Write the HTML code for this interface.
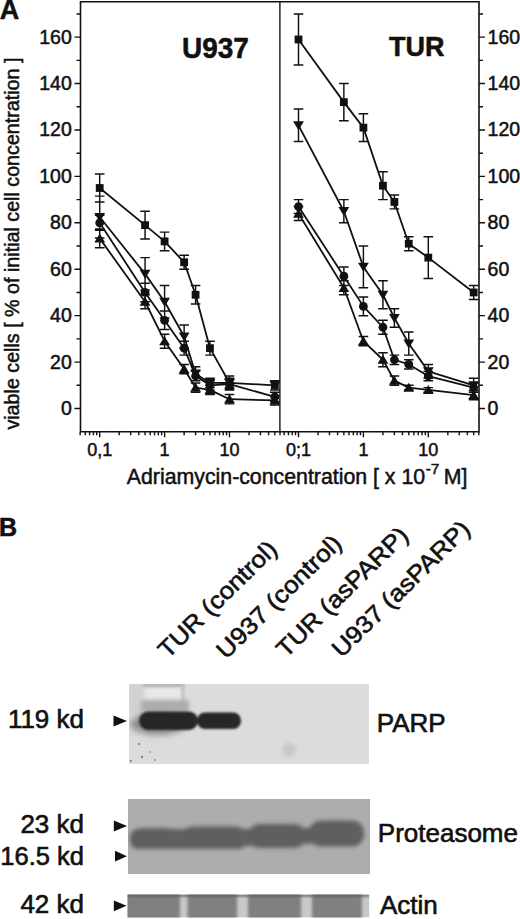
<!DOCTYPE html>
<html><head><meta charset="utf-8"><style>
html,body{margin:0;padding:0;background:#fff;}
body{width:520px;height:919px;position:relative;overflow:hidden;font-family:"Liberation Sans", sans-serif;}
</style></head><body>
<svg width="520" height="919" viewBox="0 0 520 919" style="position:absolute;left:0;top:0"><g stroke="#111" stroke-width="1.6" fill="none"><path d="M80.5 1.8H479.0V431.8H80.5Z"/><path d="M279.9 1.8V431.8" stroke-width="1.4"/></g><path d="M74.5 408.50H80.5 M479.0 408.50H485.0 M76.5 385.29H80.5 M479.0 385.29H483.0 M74.5 362.08H80.5 M479.0 362.08H485.0 M76.5 338.87H80.5 M479.0 338.87H483.0 M74.5 315.66H80.5 M479.0 315.66H485.0 M76.5 292.45H80.5 M479.0 292.45H483.0 M74.5 269.24H80.5 M479.0 269.24H485.0 M76.5 246.03H80.5 M479.0 246.03H483.0 M74.5 222.82H80.5 M479.0 222.82H485.0 M76.5 199.61H80.5 M479.0 199.61H483.0 M74.5 176.40H80.5 M479.0 176.40H485.0 M76.5 153.19H80.5 M479.0 153.19H483.0 M74.5 129.98H80.5 M479.0 129.98H485.0 M76.5 106.77H80.5 M479.0 106.77H483.0 M74.5 83.56H80.5 M479.0 83.56H485.0 M76.5 60.35H80.5 M479.0 60.35H483.0 M74.5 37.14H80.5 M479.0 37.14H485.0 M76.5 13.93H80.5 M479.0 13.93H483.0 M80.16 431.8V435.3 M85.30 431.8V435.3 M89.65 431.8V435.3 M93.41 431.8V435.3 M96.73 431.8V435.3 M99.70 431.8V437.3 M119.24 431.8V435.3 M130.67 431.8V435.3 M138.77 431.8V435.3 M145.06 431.8V435.3 M150.20 431.8V435.3 M154.55 431.8V435.3 M158.31 431.8V435.3 M161.63 431.8V435.3 M164.60 431.8V437.3 M184.14 431.8V435.3 M195.57 431.8V435.3 M203.67 431.8V435.3 M209.96 431.8V435.3 M215.10 431.8V435.3 M219.45 431.8V435.3 M223.21 431.8V435.3 M226.53 431.8V435.3 M229.50 431.8V437.3 M249.04 431.8V435.3 M260.47 431.8V435.3 M268.57 431.8V435.3 M274.86 431.8V435.3 M280.00 431.8V435.3 M284.10 431.8V435.3 M288.45 431.8V435.3 M292.21 431.8V435.3 M295.53 431.8V435.3 M298.50 431.8V437.3 M318.04 431.8V435.3 M329.47 431.8V435.3 M337.57 431.8V435.3 M343.86 431.8V435.3 M349.00 431.8V435.3 M353.35 431.8V435.3 M357.11 431.8V435.3 M360.43 431.8V435.3 M363.40 431.8V437.3 M382.94 431.8V435.3 M394.37 431.8V435.3 M402.47 431.8V435.3 M408.76 431.8V435.3 M413.90 431.8V435.3 M418.25 431.8V435.3 M422.01 431.8V435.3 M425.33 431.8V435.3 M428.30 431.8V437.3 M447.84 431.8V435.3 M459.27 431.8V435.3 M467.37 431.8V435.3 M473.66 431.8V435.3 M478.80 431.8V435.3" stroke="#111" stroke-width="1.4" fill="none"/><path d="M99.70 174.08V201.93M94.90 174.08H104.50M94.90 201.93H104.50 M145.06 211.21V239.07M140.26 211.21H149.86M140.26 239.07H149.86 M164.60 232.10V250.67M159.80 232.10H169.40M159.80 250.67H169.40 M184.14 255.31V269.24M179.34 255.31H188.94M179.34 269.24H188.94 M195.57 285.49V304.05M190.77 285.49H200.37M190.77 304.05H200.37 M209.96 341.19V355.12M205.16 341.19H214.76M205.16 355.12H214.76 M229.50 376.01V389.93M224.70 376.01H234.30M224.70 389.93H234.30 M274.86 380.65V389.93M270.06 380.65H279.66M270.06 389.93H279.66 M99.70 196.13V237.91M94.90 196.13H104.50M94.90 237.91H104.50 M145.06 257.63V290.13M140.26 257.63H149.86M140.26 290.13H149.86 M164.60 285.49V317.98M159.80 285.49H169.40M159.80 317.98H169.40 M184.14 324.94V348.15M179.34 324.94H188.94M179.34 348.15H188.94 M195.57 366.72V380.65M190.77 366.72H200.37M190.77 380.65H200.37 M209.96 378.33V387.61M205.16 378.33H214.76M205.16 387.61H214.76 M229.50 378.33V387.61M224.70 378.33H234.30M224.70 387.61H234.30 M274.86 380.65V389.93M270.06 380.65H279.66M270.06 389.93H279.66 M99.70 215.39V230.25M94.90 215.39H104.50M94.90 230.25H104.50 M145.06 283.17V301.73M140.26 283.17H149.86M140.26 301.73H149.86 M164.60 311.02V329.59M159.80 311.02H169.40M159.80 329.59H169.40 M184.14 341.19V355.12M179.34 341.19H188.94M179.34 355.12H188.94 M195.57 371.36V380.65M190.77 371.36H200.37M190.77 380.65H200.37 M209.96 380.65V389.93M205.16 380.65H214.76M205.16 389.93H214.76 M229.50 379.49V388.77M224.70 379.49H234.30M224.70 388.77H234.30 M274.86 392.25V401.54M270.06 392.25H279.66M270.06 401.54H279.66 M99.70 229.09V247.65M94.90 229.09H104.50M94.90 247.65H104.50 M145.06 294.77V308.70M140.26 294.77H149.86M140.26 308.70H149.86 M164.60 334.23V348.15M159.80 334.23H169.40M159.80 348.15H169.40 M184.14 364.40V373.69M179.34 364.40H188.94M179.34 373.69H188.94 M195.57 382.97V392.25M190.77 382.97H200.37M190.77 392.25H200.37 M209.96 385.29V394.57M205.16 385.29H214.76M205.16 394.57H214.76 M229.50 394.57V403.86M224.70 394.57H234.30M224.70 403.86H234.30 M274.86 395.73V405.02M270.06 395.73H279.66M270.06 405.02H279.66" stroke="#111" stroke-width="1.45" fill="none"/><path d="M99.70 188.00L145.06 225.14L164.60 241.39L184.14 262.28L195.57 294.77L209.96 348.15L229.50 382.97L274.86 385.29 M99.70 217.02L145.06 273.88L164.60 301.73L184.14 336.55L195.57 373.69L209.96 382.97L229.50 382.97L274.86 385.29 M99.70 222.82L145.06 292.45L164.60 320.30L184.14 348.15L195.57 376.01L209.96 385.29L229.50 384.13L274.86 396.89 M99.70 238.37L145.06 301.73L164.60 341.19L184.14 369.04L195.57 387.61L209.96 389.93L229.50 399.22L274.86 400.38" stroke="#111" stroke-width="1.8" fill="none" stroke-linejoin="round"/><g fill="#111"><rect x="95.80" y="184.10" width="7.80" height="7.80"/><rect x="141.16" y="221.24" width="7.80" height="7.80"/><rect x="160.70" y="237.49" width="7.80" height="7.80"/><rect x="180.24" y="258.38" width="7.80" height="7.80"/><rect x="191.67" y="290.87" width="7.80" height="7.80"/><rect x="206.06" y="344.25" width="7.80" height="7.80"/><rect x="225.60" y="379.07" width="7.80" height="7.80"/><rect x="270.96" y="381.39" width="7.80" height="7.80"/><path d="M94.30 212.92L105.10 212.92L99.70 221.92Z"/><path d="M139.66 269.78L150.46 269.78L145.06 278.78Z"/><path d="M159.20 297.63L170.00 297.63L164.60 306.63Z"/><path d="M178.74 332.45L189.54 332.45L184.14 341.45Z"/><path d="M190.17 369.58L200.97 369.58L195.57 378.58Z"/><path d="M204.56 378.87L215.36 378.87L209.96 387.87Z"/><path d="M224.10 378.87L234.90 378.87L229.50 387.87Z"/><path d="M269.46 381.19L280.26 381.19L274.86 390.19Z"/><circle cx="99.70" cy="222.82" r="4.4"/><circle cx="145.06" cy="292.45" r="4.4"/><circle cx="164.60" cy="320.30" r="4.4"/><circle cx="184.14" cy="348.15" r="4.4"/><circle cx="195.57" cy="376.01" r="4.4"/><circle cx="209.96" cy="385.29" r="4.4"/><circle cx="229.50" cy="384.13" r="4.4"/><circle cx="274.86" cy="396.89" r="4.4"/><path d="M94.30 242.47L105.10 242.47L99.70 233.47Z"/><path d="M139.66 305.83L150.46 305.83L145.06 296.83Z"/><path d="M159.20 345.29L170.00 345.29L164.60 336.29Z"/><path d="M178.74 373.14L189.54 373.14L184.14 364.14Z"/><path d="M190.17 391.71L200.97 391.71L195.57 382.71Z"/><path d="M204.56 394.03L215.36 394.03L209.96 385.03Z"/><path d="M224.10 403.32L234.90 403.32L229.50 394.32Z"/><path d="M269.46 404.48L280.26 404.48L274.86 395.48Z"/></g><path d="M298.50 13.93V64.99M293.70 13.93H303.30M293.70 64.99H303.30 M343.86 83.56V120.70M339.06 83.56H348.66M339.06 120.70H348.66 M363.40 113.73V141.58M358.60 113.73H368.20M358.60 141.58H368.20 M382.94 171.76V199.61M378.14 171.76H387.74M378.14 199.61H387.74 M394.37 194.97V208.89M389.57 194.97H399.17M389.57 208.89H399.17 M408.76 236.75V250.67M403.96 236.75H413.56M403.96 250.67H413.56 M428.30 236.75V278.52M423.50 236.75H433.10M423.50 278.52H433.10 M473.66 285.49V299.41M468.86 285.49H478.46M468.86 299.41H478.46 M298.50 109.09V141.58M293.70 109.09H303.30M293.70 141.58H303.30 M343.86 199.61V222.82M339.06 199.61H348.66M339.06 222.82H348.66 M363.40 246.03V287.81M358.60 246.03H368.20M358.60 287.81H368.20 M382.94 280.84V308.70M378.14 280.84H387.74M378.14 308.70H387.74 M394.37 308.70V327.26M389.57 308.70H399.17M389.57 327.26H399.17 M408.76 331.91V355.12M403.96 331.91H413.56M403.96 355.12H413.56 M428.30 364.40V378.33M423.50 364.40H433.10M423.50 378.33H433.10 M473.66 378.33V392.25M468.86 378.33H478.46M468.86 392.25H478.46 M298.50 199.61V213.54M293.70 199.61H303.30M293.70 213.54H303.30 M343.86 266.92V285.49M339.06 266.92H348.66M339.06 285.49H348.66 M363.40 297.09V315.66M358.60 297.09H368.20M358.60 315.66H368.20 M382.94 320.30V334.23M378.14 320.30H387.74M378.14 334.23H387.74 M394.37 355.12V364.40M389.57 355.12H399.17M389.57 364.40H399.17 M408.76 359.76V369.04M403.96 359.76H413.56M403.96 369.04H413.56 M428.30 371.36V380.65M423.50 371.36H433.10M423.50 380.65H433.10 M473.66 382.97V392.25M468.86 382.97H478.46M468.86 392.25H478.46 M298.50 206.57V220.50M293.70 206.57H303.30M293.70 220.50H303.30 M343.86 280.84V294.77M339.06 280.84H348.66M339.06 294.77H348.66 M363.40 336.55V345.83M358.60 336.55H368.20M358.60 345.83H368.20 M382.94 352.80V366.72M378.14 352.80H387.74M378.14 366.72H387.74 M394.37 376.01V385.29M389.57 376.01H399.17M389.57 385.29H399.17 M408.76 385.29V389.93M403.96 385.29H413.56M403.96 389.93H413.56 M428.30 387.61V392.25M423.50 387.61H433.10M423.50 392.25H433.10 M473.66 390.40V399.68M468.86 390.40H478.46M468.86 399.68H478.46" stroke="#111" stroke-width="1.45" fill="none"/><path d="M298.50 39.46L343.86 102.13L363.40 127.66L382.94 185.68L394.37 201.93L408.76 243.71L428.30 257.63L473.66 292.45 M298.50 125.34L343.86 211.21L363.40 266.92L382.94 294.77L394.37 317.98L408.76 343.51L428.30 371.36L473.66 385.29 M298.50 206.57L343.86 276.20L363.40 306.38L382.94 327.26L394.37 359.76L408.76 364.40L428.30 376.01L473.66 387.61 M298.50 213.54L343.86 287.81L363.40 341.19L382.94 359.76L394.37 380.65L408.76 387.61L428.30 389.93L473.66 395.04" stroke="#111" stroke-width="1.8" fill="none" stroke-linejoin="round"/><g fill="#111"><rect x="294.60" y="35.56" width="7.80" height="7.80"/><rect x="339.96" y="98.23" width="7.80" height="7.80"/><rect x="359.50" y="123.76" width="7.80" height="7.80"/><rect x="379.04" y="181.78" width="7.80" height="7.80"/><rect x="390.47" y="198.03" width="7.80" height="7.80"/><rect x="404.86" y="239.81" width="7.80" height="7.80"/><rect x="424.40" y="253.73" width="7.80" height="7.80"/><rect x="469.76" y="288.55" width="7.80" height="7.80"/><path d="M293.10 121.24L303.90 121.24L298.50 130.24Z"/><path d="M338.46 207.11L349.26 207.11L343.86 216.11Z"/><path d="M358.00 262.82L368.80 262.82L363.40 271.82Z"/><path d="M377.54 290.67L388.34 290.67L382.94 299.67Z"/><path d="M388.97 313.88L399.77 313.88L394.37 322.88Z"/><path d="M403.36 339.41L414.16 339.41L408.76 348.41Z"/><path d="M422.90 367.26L433.70 367.26L428.30 376.26Z"/><path d="M468.26 381.19L479.06 381.19L473.66 390.19Z"/><circle cx="298.50" cy="206.57" r="4.4"/><circle cx="343.86" cy="276.20" r="4.4"/><circle cx="363.40" cy="306.38" r="4.4"/><circle cx="382.94" cy="327.26" r="4.4"/><circle cx="394.37" cy="359.76" r="4.4"/><circle cx="408.76" cy="364.40" r="4.4"/><circle cx="428.30" cy="376.01" r="4.4"/><circle cx="473.66" cy="387.61" r="4.4"/><path d="M293.10 217.64L303.90 217.64L298.50 208.64Z"/><path d="M338.46 291.91L349.26 291.91L343.86 282.91Z"/><path d="M358.00 345.29L368.80 345.29L363.40 336.29Z"/><path d="M377.54 363.86L388.34 363.86L382.94 354.86Z"/><path d="M388.97 384.75L399.77 384.75L394.37 375.75Z"/><path d="M403.36 391.71L414.16 391.71L408.76 382.71Z"/><path d="M422.90 394.03L433.70 394.03L428.30 385.03Z"/><path d="M468.26 399.14L479.06 399.14L473.66 390.14Z"/></g><g font-family='"Liberation Sans", sans-serif' fill="#111" stroke="#111" stroke-width="0.5"><text x="-0.3" y="18.6" font-size="27" font-weight="700" text-anchor="start" >A</text><text x="0" y="0" font-size="28" font-weight="700" text-anchor="start" transform="translate(182 57.8) scale(1 1.08)">U937</text><text x="0" y="0" font-size="27" font-weight="700" text-anchor="start" transform="translate(389 56) scale(1 1.05)">TUR</text><text x="71.8" y="415.0" font-size="19.5" font-weight="400" text-anchor="end" >0</text><text x="487.6" y="415.0" font-size="19.5" font-weight="400" text-anchor="start" >0</text><text x="71.8" y="368.58" font-size="19.5" font-weight="400" text-anchor="end" >20</text><text x="487.6" y="368.58" font-size="19.5" font-weight="400" text-anchor="start" >20</text><text x="71.8" y="322.16" font-size="19.5" font-weight="400" text-anchor="end" >40</text><text x="487.6" y="322.16" font-size="19.5" font-weight="400" text-anchor="start" >40</text><text x="71.8" y="275.74" font-size="19.5" font-weight="400" text-anchor="end" >60</text><text x="487.6" y="275.74" font-size="19.5" font-weight="400" text-anchor="start" >60</text><text x="71.8" y="229.32" font-size="19.5" font-weight="400" text-anchor="end" >80</text><text x="487.6" y="229.32" font-size="19.5" font-weight="400" text-anchor="start" >80</text><text x="71.8" y="182.9" font-size="19.5" font-weight="400" text-anchor="end" >100</text><text x="487.6" y="182.9" font-size="19.5" font-weight="400" text-anchor="start" >100</text><text x="71.8" y="136.48" font-size="19.5" font-weight="400" text-anchor="end" >120</text><text x="487.6" y="136.48" font-size="19.5" font-weight="400" text-anchor="start" >120</text><text x="71.8" y="90.06" font-size="19.5" font-weight="400" text-anchor="end" >140</text><text x="487.6" y="90.06" font-size="19.5" font-weight="400" text-anchor="start" >140</text><text x="71.8" y="43.64" font-size="19.5" font-weight="400" text-anchor="end" >160</text><text x="487.6" y="43.64" font-size="19.5" font-weight="400" text-anchor="start" >160</text><text x="99.7" y="456" font-size="18" font-weight="400" text-anchor="middle" >0,1</text><text x="164.6" y="456" font-size="18" font-weight="400" text-anchor="middle" >1</text><text x="229.5" y="456" font-size="18" font-weight="400" text-anchor="middle" >10</text><text x="298.5" y="456" font-size="18" font-weight="400" text-anchor="middle" >0;1</text><text x="363.4" y="456" font-size="18" font-weight="400" text-anchor="middle" >1</text><text x="428.3" y="456" font-size="18" font-weight="400" text-anchor="middle" >10</text><text x="126.8" y="484.2" font-size="21.3" font-weight="400" text-anchor="start" >Adriamycin-concentration [ x 10<tspan font-size="15.5" dx="0.6" dy="-10">-7</tspan><tspan dy="10" dx="-1.6"> M]</tspan></text><text transform="translate(19.3 429.6) rotate(-90)" font-size="19.7">viable cells [ % of initial cell concentration ]</text></g><defs><filter id="bl1" x="-30%" y="-80%" width="160%" height="260%"><feGaussianBlur stdDeviation="1.2"/></filter><filter id="bl2" x="-30%" y="-80%" width="160%" height="260%"><feGaussianBlur stdDeviation="2"/></filter><filter id="bl3" x="-30%" y="-80%" width="160%" height="260%"><feGaussianBlur stdDeviation="3"/></filter><filter id="bl15" x="-30%" y="-80%" width="160%" height="260%"><feGaussianBlur stdDeviation="1.6"/></filter><clipPath id="cpP"><rect x="129" y="684" width="240" height="80"/></clipPath><clipPath id="cpR"><rect x="128" y="799" width="242" height="75"/></clipPath><clipPath id="cpA"><rect x="127.5" y="894.5" width="242" height="23"/></clipPath></defs><g clip-path="url(#cpP)"><rect x="129" y="684" width="240" height="80" fill="#dcdcdc"/><rect x="129" y="684" width="15" height="30" fill="#d2d2d2" filter="url(#bl2)"/><rect x="145" y="686" width="38" height="15" fill="#e8e8e8" filter="url(#bl2)"/><rect x="143" y="683" width="41" height="4" fill="#b0b0b0" filter="url(#bl15)"/><rect x="181.5" y="684" width="3" height="20" fill="#bcbcbc" filter="url(#bl15)"/><rect x="141" y="700" width="48" height="12" fill="#acacac" filter="url(#bl2)"/><ellipse cx="158" cy="724" rx="28" ry="11" fill="#8c8c8c" filter="url(#bl3)"/><g filter="url(#bl1)" fill="#272727"><rect x="139" y="711.5" width="59" height="18.5" rx="9"/><rect x="197" y="712.5" width="44" height="16.5" rx="8"/></g><ellipse cx="289" cy="750" rx="7" ry="7" fill="#c8c8c8" filter="url(#bl2)"/><g fill="#666"><circle cx="139" cy="744" r="0.9"/><circle cx="142" cy="757" r="1"/><circle cx="150" cy="752" r="0.7"/><circle cx="155" cy="760" r="0.8"/><circle cx="131" cy="761" r="0.9"/></g></g><g clip-path="url(#cpR)"><rect x="128" y="799" width="242" height="75" fill="#adadad"/><g filter="url(#bl2)" fill="#5e5e5e"><rect x="130" y="829" width="116" height="20" rx="8"/><rect x="132" y="828" width="44" height="21" rx="10"/><rect x="182" y="826.5" width="64" height="22" rx="10"/><rect x="240" y="829" width="14" height="17"/><rect x="248.5" y="824" width="57" height="24" rx="11"/><rect x="300" y="828" width="12" height="16"/><rect x="309" y="820.5" width="55" height="26" rx="12"/></g></g><g clip-path="url(#cpA)"><rect x="127.5" y="894.5" width="242" height="23" fill="#c8c8c8"/><g filter="url(#bl15)" fill="#808080"><rect x="124" y="890" width="56" height="32"/><rect x="187.5" y="890" width="49.5" height="32"/><rect x="248" y="890" width="53" height="32"/><rect x="312" y="890" width="50" height="32"/></g><rect x="127.5" y="894.5" width="242" height="2" fill="#5a5a5a" filter="url(#bl1)"/></g><path d="M113.5 715.6L127 721L113.5 726.4Z" fill="#111"/><path d="M113.8 820.6L127 826L113.8 831.4Z" fill="#111"/><path d="M115 850.8000000000001L127 856.2L115 861.6Z" fill="#111"/><path d="M113.8 900.4L126.5 905.8L113.8 911.1999999999999Z" fill="#111"/><g font-family='"Liberation Sans", sans-serif' fill="#111" stroke="#111" stroke-width="0.6"><text x="-1" y="535.5" font-size="25" font-weight="700">B</text><text transform="translate(167.7 659.6) rotate(-44.5) scale(1.08 1)" font-size="24">TUR (control)</text><text transform="translate(226.1 659.9) rotate(-44.5) scale(1.08 1)" font-size="24">U937 (control)</text><text transform="translate(285.9 658.7) rotate(-44.5) scale(1.08 1)" font-size="24">TUR (asPARP)</text><text transform="translate(341.5 658.5) rotate(-44.5) scale(1.08 1)" font-size="24">U937 (asPARP)</text><text transform="translate(84 727.8) scale(1.04 1)" font-size="25" text-anchor="end">119 kd</text><text transform="translate(84 833) scale(1.04 1)" font-size="25" text-anchor="end">23 kd</text><text transform="translate(84 864.8) scale(1.02 1)" font-size="25" text-anchor="end">16.5 kd</text><text transform="translate(84 912.8) scale(1.04 1)" font-size="25" text-anchor="end">42 kd</text><text transform="translate(376.8 731.5) scale(1.04 1)" font-size="25" text-anchor="start">PARP</text><text transform="translate(377.8 842.2) scale(1.04 1)" font-size="25" text-anchor="start">Proteasome</text><text transform="translate(380 913.5) scale(1.04 1)" font-size="25" text-anchor="start">Actin</text></g></svg>
</body></html>
